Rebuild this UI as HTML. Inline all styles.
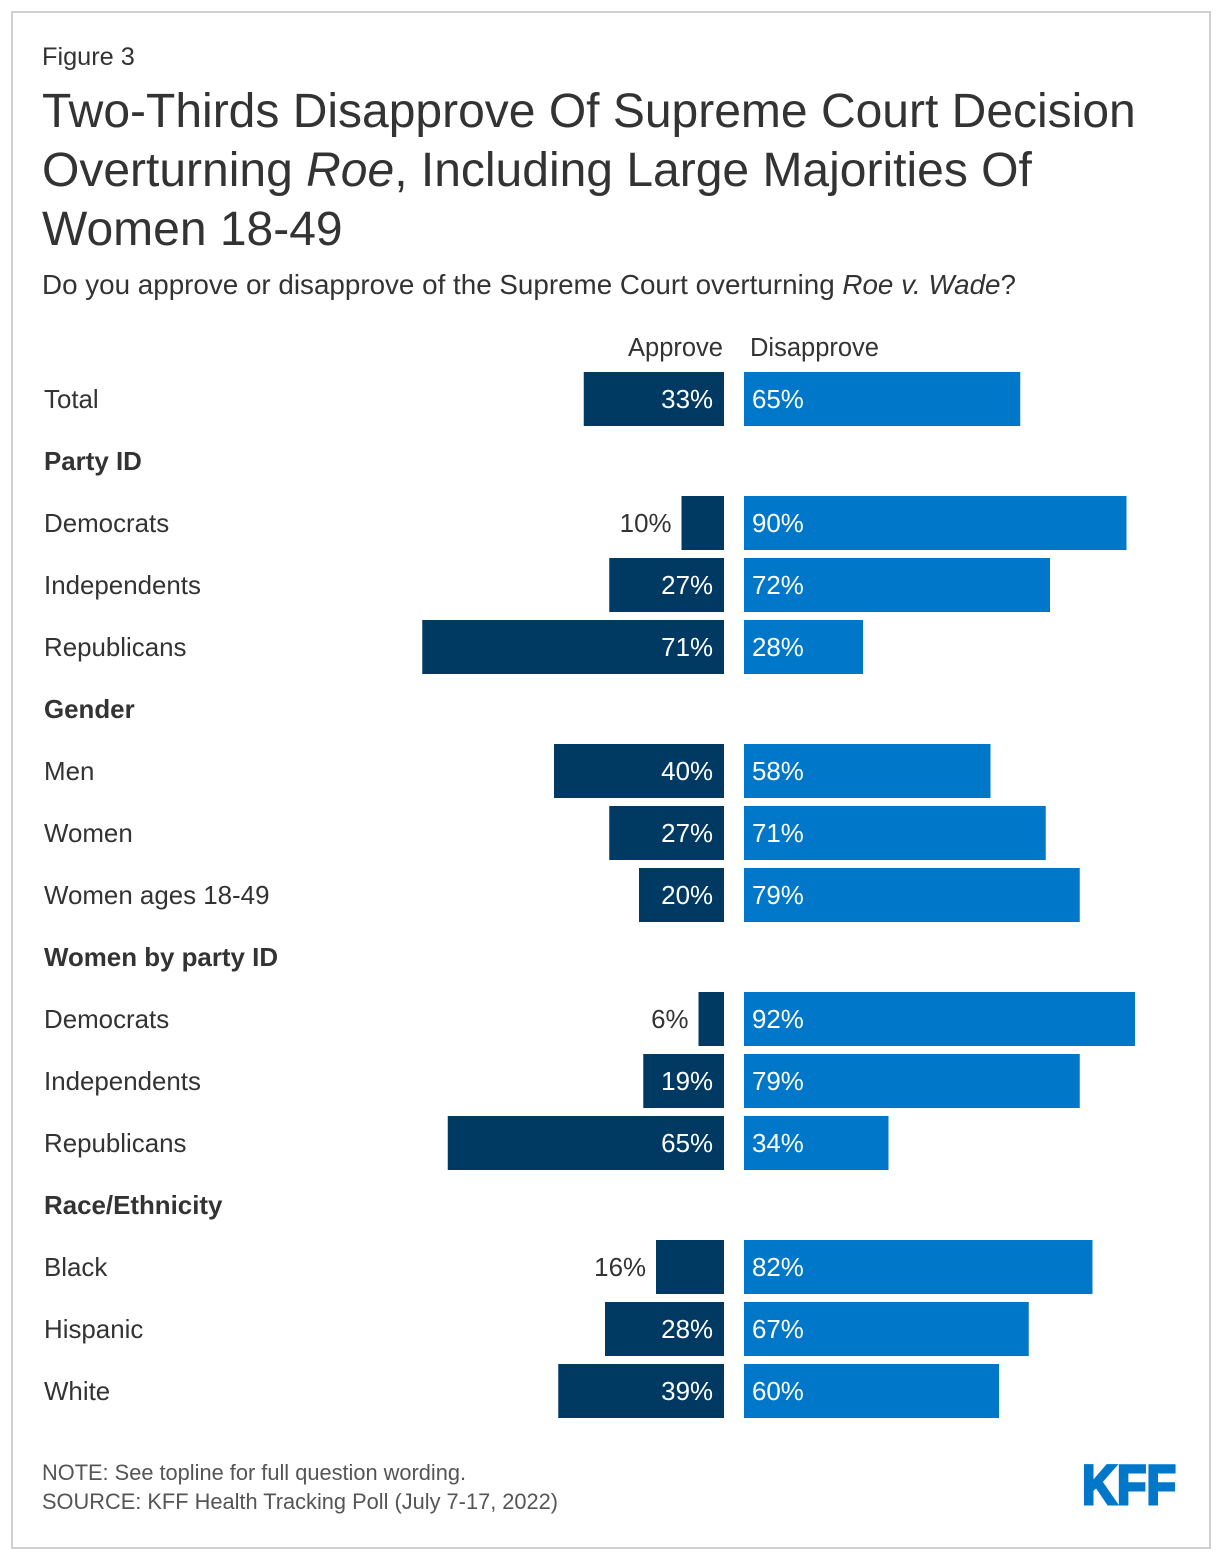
<!DOCTYPE html>
<html><head><meta charset="utf-8"><style>
body{margin:0;background:#fff;font-family:"Liberation Sans",Arial,sans-serif;color:#333}
#frame{position:absolute;left:11px;top:11px;width:1196px;height:1534px;border:2px solid #d0d0d0;box-sizing:content-box}
.t{position:absolute;white-space:nowrap}
</style></head><body>
<div id="frame"></div>
<div class="t" style="left:42px;top:43px;font-size:25.3px">Figure 3</div>
<div class="t" style="left:42px;top:82px;font-size:48px;line-height:59px;color:#333">Two-Thirds Disapprove Of Supreme Court Decision<br>Overturning <i>Roe</i>, Including Large Majorities Of<br>Women 18-49</div>
<div class="t" style="left:42px;top:269px;font-size:27.8px">Do you approve or disapprove of the Supreme Court overturning <i>Roe v. Wade</i>?</div>
<div class="t" style="left:42px;top:1460px;font-size:21.8px;color:#555">NOTE: See topline for full question wording.</div>
<div class="t" style="left:42px;top:1489px;font-size:21.8px;color:#555">SOURCE: KFF Health Tracking Poll (July 7-17, 2022)</div>
<svg width="1220" height="1558" style="position:absolute;left:0;top:0" id="chart">
<text x="723" y="356" text-anchor="end" font-size="25.5" fill="#333">Approve</text>
<text x="750" y="356" font-size="25.5" fill="#333">Disapprove</text>
<text x="1082" y="1504" font-size="56" font-weight="bold" fill="#0077c8" stroke="#0077c8" stroke-width="3" textLength="94" lengthAdjust="spacingAndGlyphs">KFF</text>
<g id="rows"></g>
</svg>
<script>
const labels=["Total","Party ID","Democrats","Independents","Republicans","Gender","Men","Women","Women ages 18-49","Women by party ID","Democrats","Independents","Republicans","Race/Ethnicity","Black","Hispanic","White"];
const isHeader=[false,true,false,false,false,true,false,false,false,true,false,false,false,true,false,false,false];
const approve=[33,null,10,27,71,null,40,27,20,null,6,19,65,null,16,28,39];
const disapprove=[65,null,90,72,28,null,58,71,79,null,92,79,34,null,82,67,60];
const NS="http://www.w3.org/2000/svg";
const g=document.getElementById('rows');
const PX=4.25, AX=724, DX=744;
const yc=i=>399+i*62;
function mk(tag,attrs,txt){const e=document.createElementNS(NS,tag);for(const k in attrs)e.setAttribute(k,attrs[k]);if(txt!=null)e.textContent=txt;g.appendChild(e);return e;}
labels.forEach((lab,i)=>{
  const y=yc(i);
  const t=mk('text',{x:44,y:y+9,'font-size':25.9,fill:'#333','font-weight':isHeader[i]?'bold':'normal'},lab);
  
  
  if(isHeader[i])return;
  const a=approve[i],d=disapprove[i];
  const wa=a*PX, wd=d*PX;
  const ra=mk('rect',{x:AX-wa,y:y-27,width:wa,height:54,fill:'#003a63'});
  
  
  const inside=a>=19;
  const ta=mk('text',{x:inside?AX-11:AX-wa-10,y:y+9,'text-anchor':'end','font-size':25.9,fill:inside?'#fff':'#333'},a+'%');
  
  
  const rd=mk('rect',{x:DX,y:y-27,width:wd,height:54,fill:'#0077c8'});
  
  
  const td=mk('text',{x:DX+8,y:y+9,'font-size':25.9,fill:'#fff'},d+'%');
  
  
});
</script>
</body></html>
